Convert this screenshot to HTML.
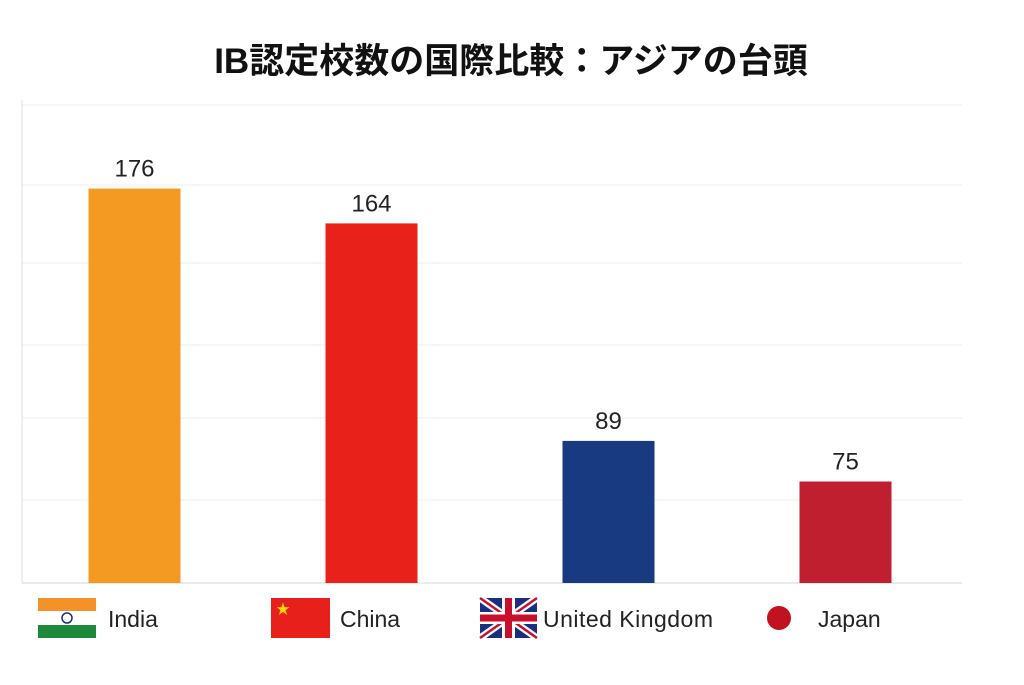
<!DOCTYPE html>
<html><head><meta charset="utf-8"><style>
body{margin:0;background:#fff;}
svg{display:block;font-family:"Liberation Sans","Noto Sans CJK JP",sans-serif;}
</style></head><body>
<svg width="1024" height="685" viewBox="0 0 1024 685">
<text x="511" y="73" text-anchor="middle" font-size="35" font-weight="bold" fill="#111" font-family="'Liberation Sans','Noto Sans CJK JP',sans-serif">IB認定校数の国際比較：アジアの台頭</text>
<g id="grid"></g>
<line x1="22" y1="100" x2="22" y2="583" stroke="#e2e2e2"/>
<g id="bars"></g>
<g id="legend">
 <g>
  <rect x="38" y="598" width="58" height="13" fill="#f4922a"/><rect x="38" y="611" width="58" height="14" fill="#fff"/><rect x="38" y="625" width="58" height="13" fill="#1c8a3a"/>
  <circle cx="67" cy="618" r="5" fill="none" stroke="#1a2f80" stroke-width="1.5"/>
  <text x="108" y="627" font-size="23" fill="#222">India</text></g>
 <g>
  <rect x="271" y="598" width="59" height="40" fill="#e8201b"/>
  <text x="276" y="614" font-size="14" fill="#ffd800">★</text>
  <text x="340" y="627" font-size="23" fill="#222">China</text></g>
 <g>
  <rect x="480" y="598" width="57" height="40" fill="#1a2f80"/>
  <line x1="480" y1="598" x2="537" y2="638" stroke="#fff" stroke-width="7"/><line x1="537" y1="598" x2="480" y2="638" stroke="#fff" stroke-width="7"/>
  <line x1="480" y1="598" x2="537" y2="638" stroke="#c8102e" stroke-width="2.5"/><line x1="537" y1="598" x2="480" y2="638" stroke="#c8102e" stroke-width="2.5"/>
  <rect x="480" y="612" width="57" height="12" fill="#fff"/><rect x="502" y="598" width="13" height="40" fill="#fff"/>
  <rect x="480" y="614.5" width="57" height="7" fill="#c8102e"/><rect x="505" y="598" width="7" height="40" fill="#c8102e"/>
  <text x="543" y="627" font-size="23" fill="#222" textLength="170">United Kingdom</text></g>
 <g>
  <circle cx="779" cy="618" r="12" fill="#c0121f"/>
  <text x="818" y="627" font-size="23" fill="#222">Japan</text></g>
</g>
</svg>
<script>
const categories=["India","China","United Kingdom","Japan"];
const values=[176,164,89,75];
const colors=["#f49a22","#e8221a","#173a80","#bf1f2f"];
const gridYs=[105,185,263,345,418,500,583];
const NS="http://www.w3.org/2000/svg";
const base=583,plotL=16,band=237,barW=92;
function y(v){return base-(v-40)*2.9;}
function x(i){return plotL+band*i+band/2;}
const g=document.getElementById('grid');
gridYs.forEach(gy=>{const l=document.createElementNS(NS,'line');
l.setAttribute('x1',22);l.setAttribute('x2',962);l.setAttribute('y1',gy);l.setAttribute('y2',gy);
l.setAttribute('stroke',gy===base?'#d5d5d5':'#ececec');


g.appendChild(l);});
const b=document.getElementById('bars');
values.forEach((v,i)=>{const r=document.createElementNS(NS,'rect');
r.setAttribute('x',x(i)-barW/2);r.setAttribute('y',y(v));r.setAttribute('width',barW);r.setAttribute('height',base-y(v));r.setAttribute('fill',colors[i]);


b.appendChild(r);
const t=document.createElementNS(NS,'text');
t.setAttribute('x',x(i));t.setAttribute('y',y(v)-12);t.setAttribute('text-anchor','middle');t.setAttribute('font-size','24');t.setAttribute('fill','#222');
t.textContent=v;


b.appendChild(t);});
</script>
</body></html>
